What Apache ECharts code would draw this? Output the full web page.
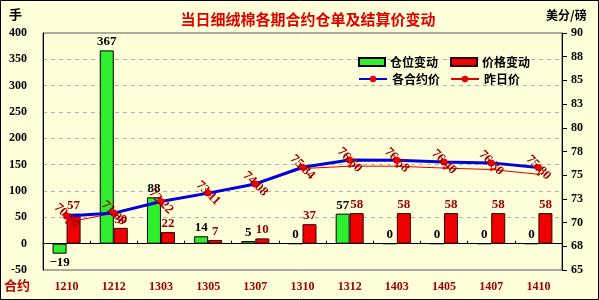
<!DOCTYPE html>
<html>
<head>
<meta charset="utf-8">
<script src="https://cdn.jsdelivr.net/npm/echarts@6/dist/echarts.min.js"></script>
<style>
html,body{margin:0;padding:0;background:#FFFFD9;}
#c{width:599px;height:300px;}
</style>
</head>
<body>
<div id="c"></div>
<script>
var categories = ['1210','1212','1303','1305','1307','1310','1312','1403','1405','1407','1410'];
var positionChange = [-19, 367, 88, 14, 5, 0, 57, 0, 0, 0, 0];
var priceChange = [57, 30, 22, 7, 10, 37, 58, 58, 58, 58, 58];
var contractPrice = [70.70, 71.00, 72.22, 73.11, 74.08, 75.84, 76.60, 76.58, 76.40, 76.30, 75.80];
var prevPrice = [70.00, 71.00, 72.20, 73.05, 74.00, 75.70, 75.95, 75.95, 75.75, 75.60, 75.10];
var leftTicks = {min: -50, max: 400, interval: 50};
var rightTicks = {min: 65, max: 90, interval: 2.5};

var chart = echarts.init(document.getElementById('c'), null, {renderer: 'canvas'});
var numFont = 'Liberation Serif';
var posData = positionChange.map(function (v) {
  return v < 0 ? {value: v, label: {position: 'bottom'}} : v;
});
var option = {
  backgroundColor: '#FFFFD9',
  animation: false,
  title: {
    text: '当日细绒棉各期合约仓单及结算价变动',
    left: 303, top: 7, textAlign: 'center',
    textStyle: {color: '#E00000', fontSize: 15, fontWeight: 'bold', fontFamily: 'Noto Sans CJK SC',
      textShadowColor: '#400000', textShadowBlur: 0, textShadowOffsetX: 1, textShadowOffsetY: 1}
  },
  legend: [{
    data: [{name: '仓位变动', icon: 'rect'}, {name: '价格变动', icon: 'rect'}],
    left: 353, top: 51, itemWidth: 26, itemHeight: 8, itemGap: 12,
    textStyle: {fontSize: 12, fontWeight: 'bold', color: '#000', fontFamily: 'Noto Sans CJK SC'}
  }, {
    data: ['各合约价', '昨日价'],
    left: 353, top: 68, itemWidth: 28, itemHeight: 8, itemGap: 10,
    textStyle: {fontSize: 12, fontWeight: 'bold', color: '#000', fontFamily: 'Noto Sans CJK SC'}
  }],
  grid: {left: 43, right: 37, top: 33, bottom: 30, show: true, borderColor: '#555', borderWidth: 1, backgroundColor: '#FFFFD9'},
  xAxis: [{
    type: 'category', data: categories, position: 'bottom',
    axisLine: {onZero: false, show: false},
    axisTick: {show: false},
    axisLabel: {color: '#A00000', fontWeight: 'bold', fontSize: 12, fontFamily: numFont, margin: 11, interval: 0}
  }, {
    type: 'category', data: categories, position: 'bottom',
    axisLine: {onZero: true, onZeroAxisIndex: 0, lineStyle: {color: '#000', width: 1}},
    axisTick: {show: true, inside: true, length: 3, lineStyle: {color: '#000'}},
    axisLabel: {show: false}
  }],
  yAxis: [{
    type: 'value', min: leftTicks.min, max: leftTicks.max, interval: leftTicks.interval,
    axisLine: {show: true, lineStyle: {color: '#000'}},
    axisTick: {show: false},
    axisLabel: {color: '#000', fontWeight: 'bold', fontSize: 12, fontFamily: numFont, margin: 16},
    splitLine: {show: true, lineStyle: {color: '#B0B0B0', type: [4, 4], width: 1}}
  }, {
    type: 'value', min: rightTicks.min, max: rightTicks.max, interval: rightTicks.interval, position: 'right',
    axisLine: {show: true, lineStyle: {color: '#000'}},
    axisTick: {show: true, length: 5, lineStyle: {color: '#000'}},
    axisLabel: {color: '#000', fontWeight: 'bold', fontSize: 12, fontFamily: numFont, margin: 9,
      formatter: function (v) { return Math.round(v); }},
    splitLine: {show: false}
  }],
  series: [{
    name: '仓位变动', type: 'bar', data: posData, barWidth: 14, barGap: '0%',
    itemStyle: {color: '#2EEE2E', borderColor: '#000', borderWidth: 1},
    label: {show: true, position: 'top', distance: 2, color: '#000', fontSize: 13, fontWeight: 'bold', fontFamily: numFont,
      formatter: function (p) { return p.value < 0 ? '\u2212' + Math.abs(p.value) : p.value; }}
  }, {
    name: '价格变动', type: 'bar', data: priceChange, barWidth: 14, barGap: '0%',
    itemStyle: {color: '#F00000', borderColor: '#300000', borderWidth: 1},
    label: {show: true, position: 'top', distance: 2, color: '#A00000', fontSize: 13, fontWeight: 'bold', fontFamily: numFont}
  }, {
    name: '昨日价', type: 'line', yAxisIndex: 1, data: prevPrice, z: 4,
    symbol: 'circle', symbolSize: 3,
    lineStyle: {color: '#E00000', width: 1},
    itemStyle: {color: '#E00000'}
  }, {
    name: '各合约价', type: 'line', yAxisIndex: 1, data: contractPrice, z: 5,
    symbol: 'circle', symbolSize: 7,
    lineStyle: {color: '#0000E0', width: 3},
    itemStyle: {color: '#F00000'},
    label: {show: true, position: 'inside', rotate: -45, color: '#A00000', fontSize: 13, fontWeight: 'bold', fontFamily: numFont,
      formatter: function (p) { return p.value.toFixed(2); }}
  }],
  graphic: [{
    type: 'text', left: 9, top: 8,
    style: {text: '手', fill: '#000', font: 'bold 13px "Noto Sans CJK SC"'}
  }, {
    type: 'text', left: 546, top: 9,
    style: {text: '美分/磅', fill: '#000', font: 'bold 12px "Noto Sans CJK SC"'}
  }, {
    type: 'text', left: 4, top: 279,
    style: {text: '合约', fill: '#C00000', font: 'bold 13px "Noto Sans CJK SC"'}
  }, {
    type: 'rect', shape: {x: 0.5, y: 0.5, width: 598, height: 299}, silent: true,
    style: {fill: 'none', stroke: '#000', lineWidth: 1}
  }]
};
chart.setOption(option);
</script>
</body>
</html>
